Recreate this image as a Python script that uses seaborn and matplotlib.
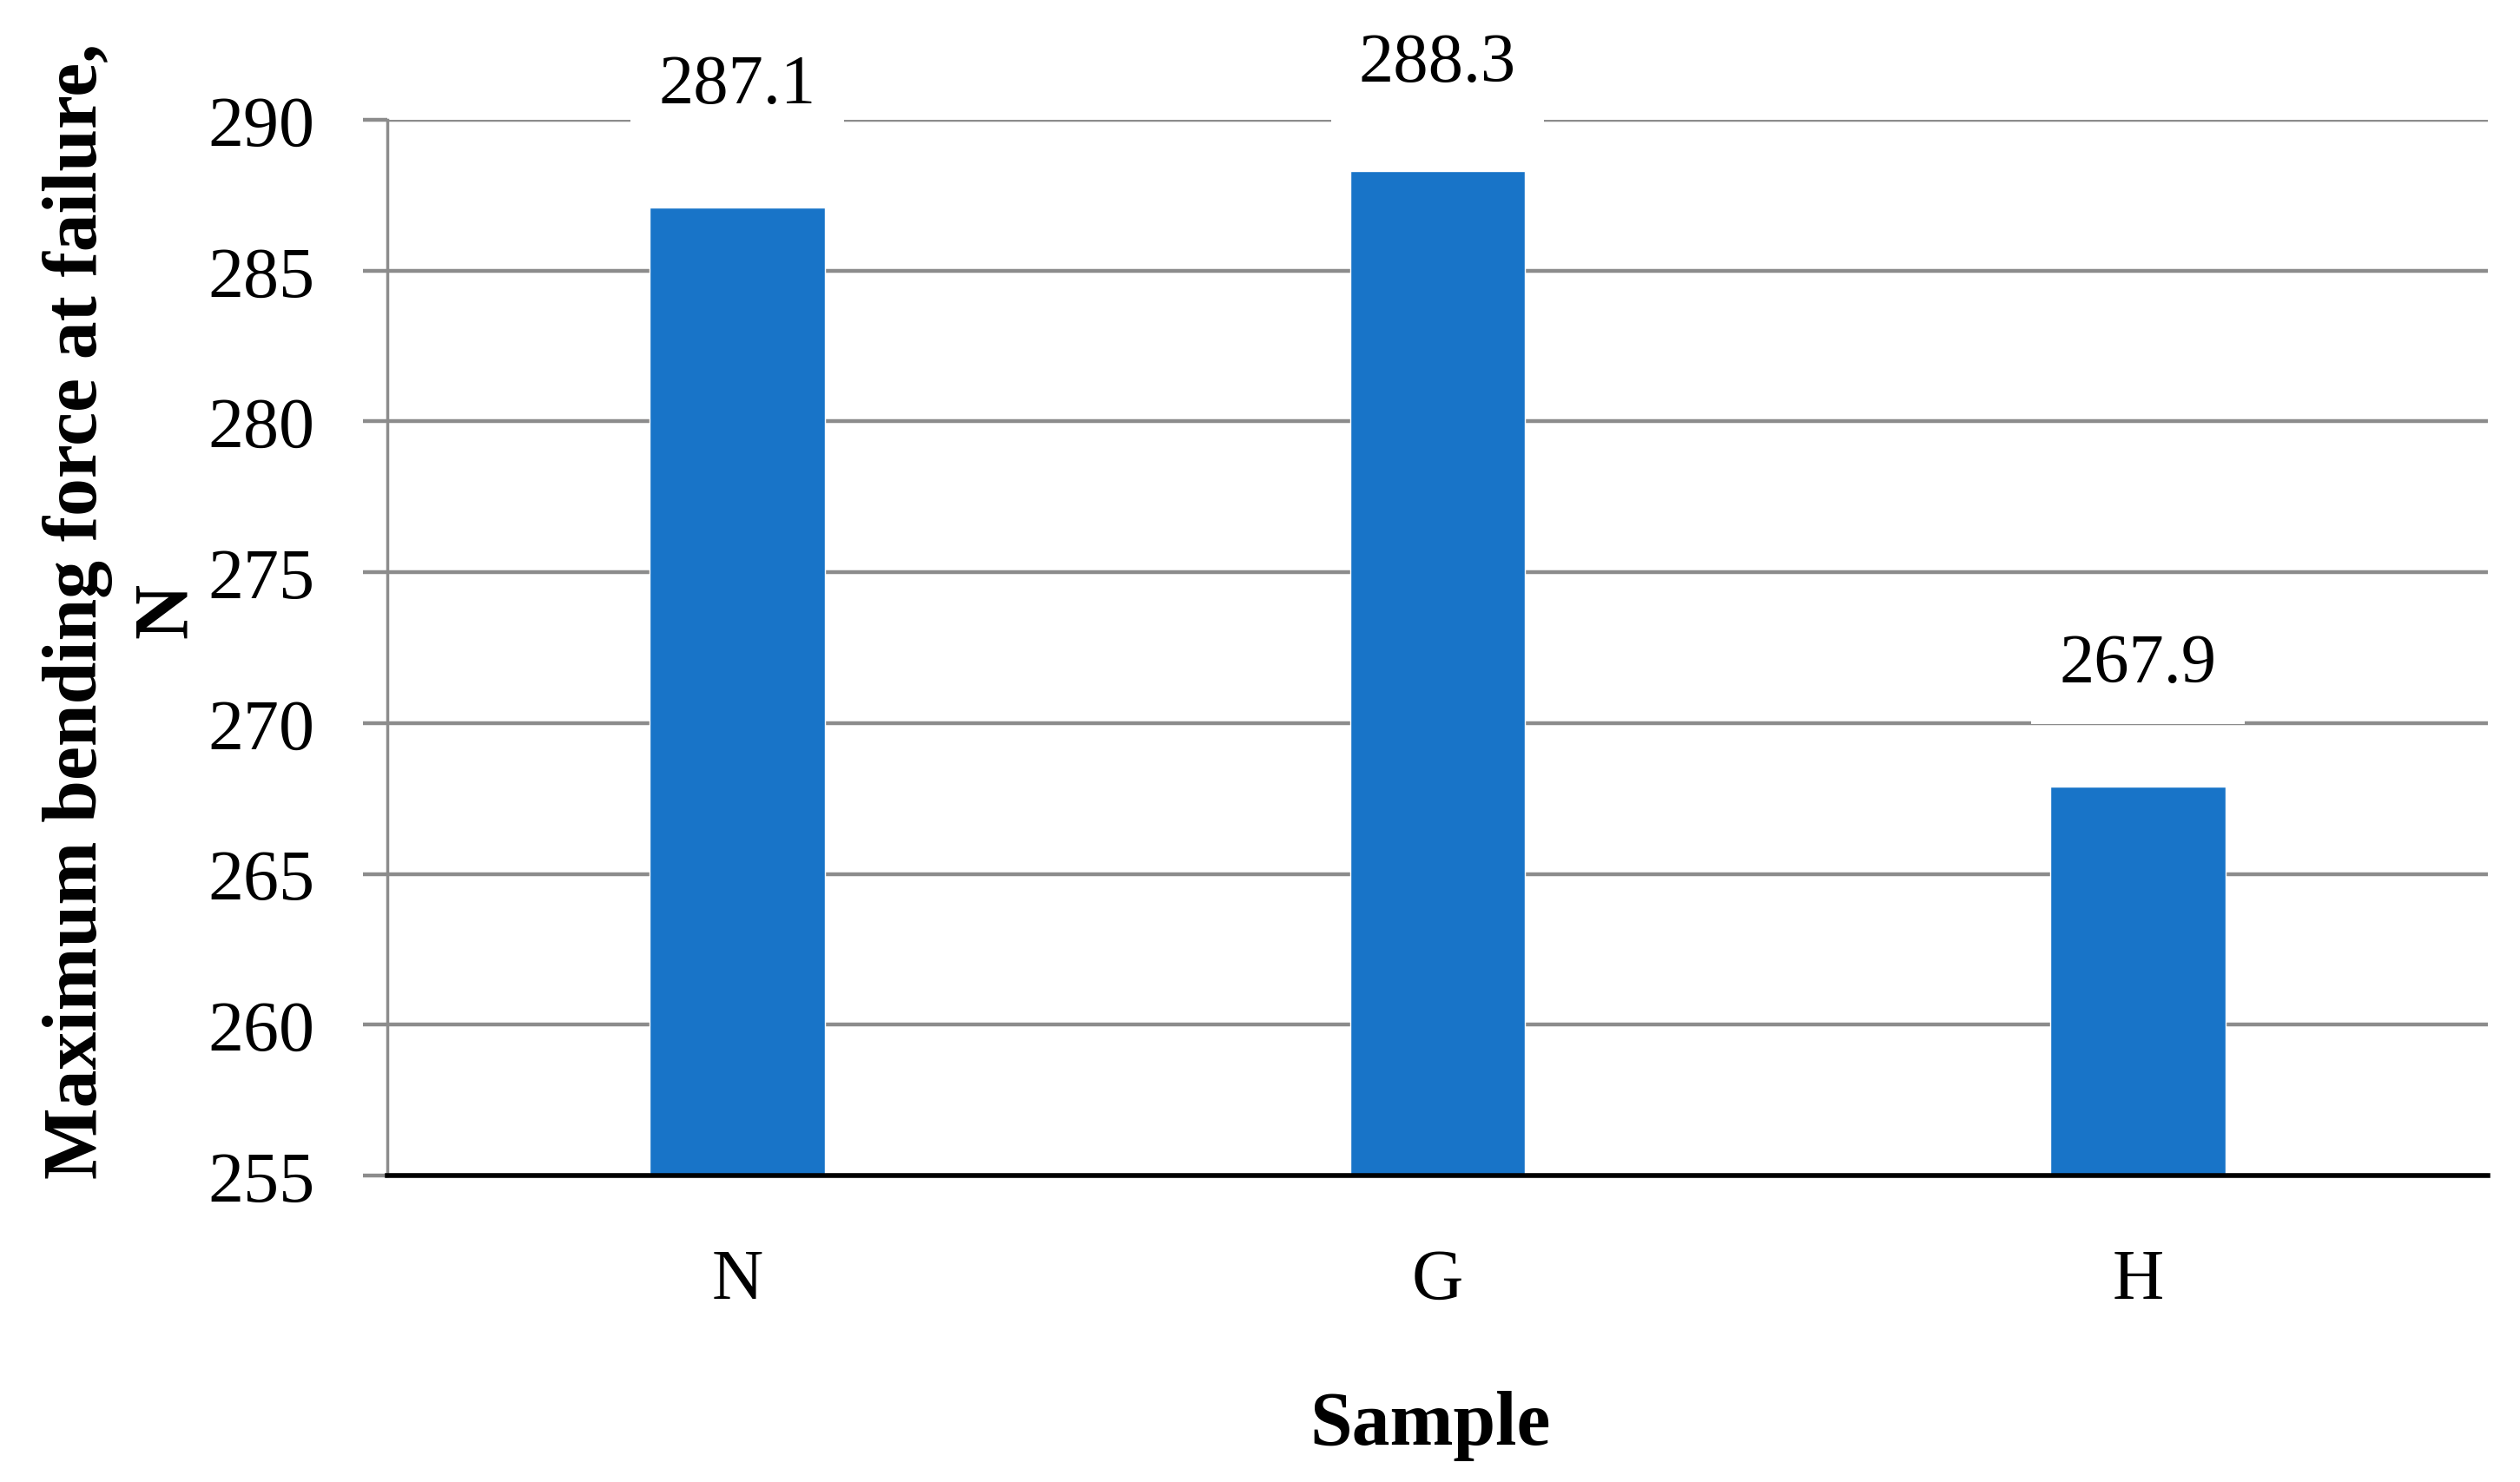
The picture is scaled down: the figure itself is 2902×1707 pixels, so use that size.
import pandas as pd
import seaborn as sns
import matplotlib.pyplot as plt

samples = ['N', 'G', 'H']
max_force = [287.1, 288.3, 267.9]
y_ticks = [255, 260, 265, 270, 275, 280, 285, 290]

df = pd.DataFrame({'Sample': samples, 'Force': max_force})

sns.set_style('white')
plt.rcParams['font.family'] = ['Liberation Serif', 'DejaVu Serif']
plt.rcParams['text.color'] = 'black'
plt.rcParams['xtick.labelcolor'] = 'black'
plt.rcParams['ytick.labelcolor'] = 'black'

fig = plt.figure(figsize=(29.02, 17.08), dpi=100)
ax = fig.add_axes([446 / 2902, 1 - 1355 / 1708, (2865 - 446) / 2902, (1355 - 139) / 1708])

sns.barplot(data=df, x='Sample', y='Force', color='#1874C8', width=0.25,
            saturation=1, ax=ax, zorder=3)

ax.set_ylim(255, 290)
ax.set_yticks(y_ticks)
ax.yaxis.grid(True, color='#8c8c8c', linewidth=3.2, zorder=0)
ax.set_axisbelow(True)

ax.tick_params(axis='y', labelsize=59, length=20, width=3.2, color='#8c8c8c', pad=40, left=True)
ax.tick_params(axis='x', labelsize=59, length=0, pad=60)

for side in ['top', 'right']:
    ax.spines[side].set_visible(False)
ax.spines['left'].set_color('#8c8c8c')
ax.spines['left'].set_linewidth(2.5)
ax.spines['bottom'].set_color('black')
ax.spines['bottom'].set_linewidth(4)
ax.spines['bottom'].set_zorder(4)

# value labels above bars, kept below the top of the chart area like Excel does
for i, v in enumerate(max_force):
    label_y = min(v + 4.05, 291.86)
    ax.text(i, label_y, f'{v:.1f}', ha='center', va='center', fontsize=58,
            clip_on=False, zorder=5,
            bbox=dict(boxstyle='square,pad=0.4', fc='white', ec='none'))

ax.set_xlabel('')
ax.set_ylabel('')
fig.text(0.5676, 0.026, 'Sample', ha='center', va='baseline', fontsize=63, fontweight='bold')
fig.text(0.0485, 0.588, 'Maximum bending force at failure,\nN', rotation=90,
         ha='center', va='center', multialignment='center', fontsize=63,
         fontweight='bold', linespacing=1.35)

fig.savefig('out.png', dpi=100)
